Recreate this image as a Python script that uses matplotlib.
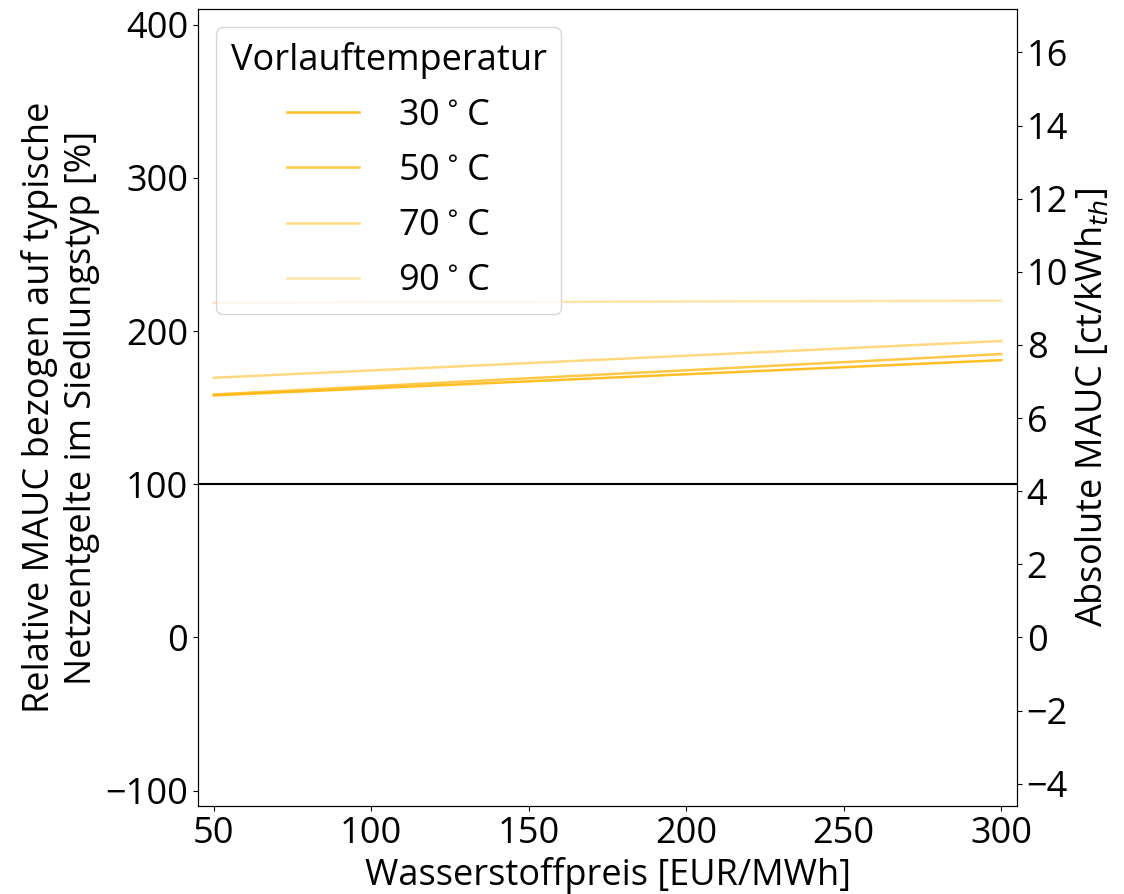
import numpy as np
import matplotlib
matplotlib.use("Agg")
import matplotlib.pyplot as plt

plt.rcParams['font.family'] = ['Open Sans', 'DejaVu Sans']
plt.rcParams['mathtext.fontset'] = 'dejavusans'

# Wasserstoffpreis [EUR/MWh]
h2_price = [50, 100, 150, 200, 250, 300]

# relative MAUC [%] je Vorlauftemperatur
mauc_30 = [158.0, 162.6, 167.2, 171.8, 176.4, 181.0]
mauc_50 = [158.6, 163.9, 169.2, 174.4, 179.7, 185.0]
mauc_70 = [169.5, 174.3, 179.1, 183.9, 188.7, 193.5]
mauc_90 = [218.5, 218.8, 219.0, 219.3, 219.5, 219.8]

temps = ['30', '50', '70', '90']
series = [mauc_30, mauc_50, mauc_70, mauc_90]
alphas = [0.85, 0.72, 0.5, 0.33]

# Umrechnung relativ -> absolut [ct/kWh_th], 100 % entsprechen typischen Netzentgelten
ref_netzentgelt = 4.19

fig = plt.figure(figsize=(11.24, 8.94), dpi=100)
ax = fig.add_axes([0.1762, 0.0984, 0.7286, 0.8912])

for t, vals, a in zip(temps, series, alphas):
    ax.plot(h2_price, vals, color='#FFB300', alpha=a, lw=1.8, label=t + r'$^\circ$C')

ax.axhline(100, color='black', lw=1.5)

ax.set_xlim(45, 305)
ax.set_ylim(-110, 410)
ax.set_xticks([50, 100, 150, 200, 250, 300])
ax.set_yticks([-100, 0, 100, 200, 300, 400])
ax.tick_params(labelsize=26)
ax.set_xlabel('Wasserstoffpreis [EUR/MWh]', fontsize=26)
ax.set_ylabel('Relative MAUC bezogen auf typische\nNetzentgelte im Siedlungstyp [%]', fontsize=26)

leg = ax.legend(title='Vorlauftemperatur', fontsize=26, title_fontsize=26,
                loc='upper left', handletextpad=1.1, labelspacing=0.53)

ax2 = ax.twinx()
lo, hi = ax.get_ylim()
ax2.set_ylim(lo * ref_netzentgelt / 100, hi * ref_netzentgelt / 100)
ax2.set_yticks([-4, -2, 0, 2, 4, 6, 8, 10, 12, 14, 16])
ax2.tick_params(labelsize=26)
ax2.set_ylabel(r'Absolute MAUC [ct/kWh$_{th}$]', fontsize=26)

fig.savefig('out.png', dpi=100)
